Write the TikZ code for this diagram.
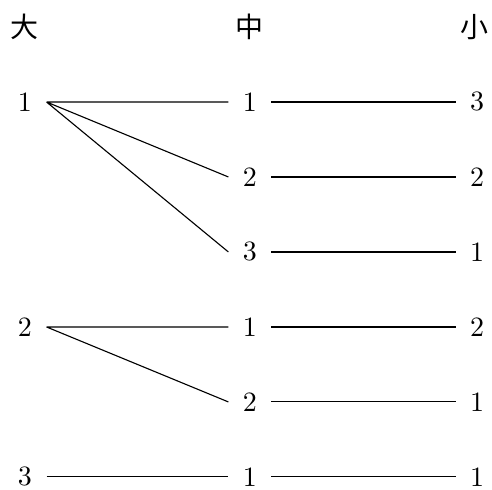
\documentclass[tikz,border=0pt]{standalone}
\usepackage{fontspec}
\newfontfamily\cjk{Noto Sans CJK SC}
\usetikzlibrary{positioning}

\begin{document}
\begin{tikzpicture}[x=80.4pt,y=-26.8pt,
every node/.style={inner sep=5.2pt,outer sep=0pt}]
\useasboundingbox (-0.111,-0.36) rectangle (2.076,6.173);
\node (H1) at (0,0) {\cjk 大};
\node (H2) at (1,0) {\cjk 中};
\node (H3) at (2,0) {\cjk 小};
\node (A1) at (0,1) {1};
\node (A2) at (0,4) {2};
\node (A3) at (0,6) {3};
\node (B11) at (1,1) {1};
\node (B12) at (1,2) {2};
\node (B13) at (1,3) {3};
\node (B21) at (1,4) {1};
\node (B22) at (1,5) {2};
\node (B31) at (1,6) {1};
\node (C11) at (2.01,1) {3};
\node (C12) at (2.01,2) {2};
\node (C13) at (2.01,3) {1};
\node (C21) at (2.01,4) {2};
\node (C22) at (2.01,5) {1};
\node (C31) at (2.01,6) {1};
\draw (A1.east)--(B11.west) (A1.east)--(B12.west) (A1.east)--(B13.west);
\draw (A2.east)--(B21.west) (A2.east)--(B22.west);
\draw (A3.east)--(B31.west);
\draw (B11)--(C11) (B12)--(C12) (B13)--(C13);
\draw (B21)--(C21) (B22)--(C22) (B31)--(C31);
\end{tikzpicture}
\end{document}
